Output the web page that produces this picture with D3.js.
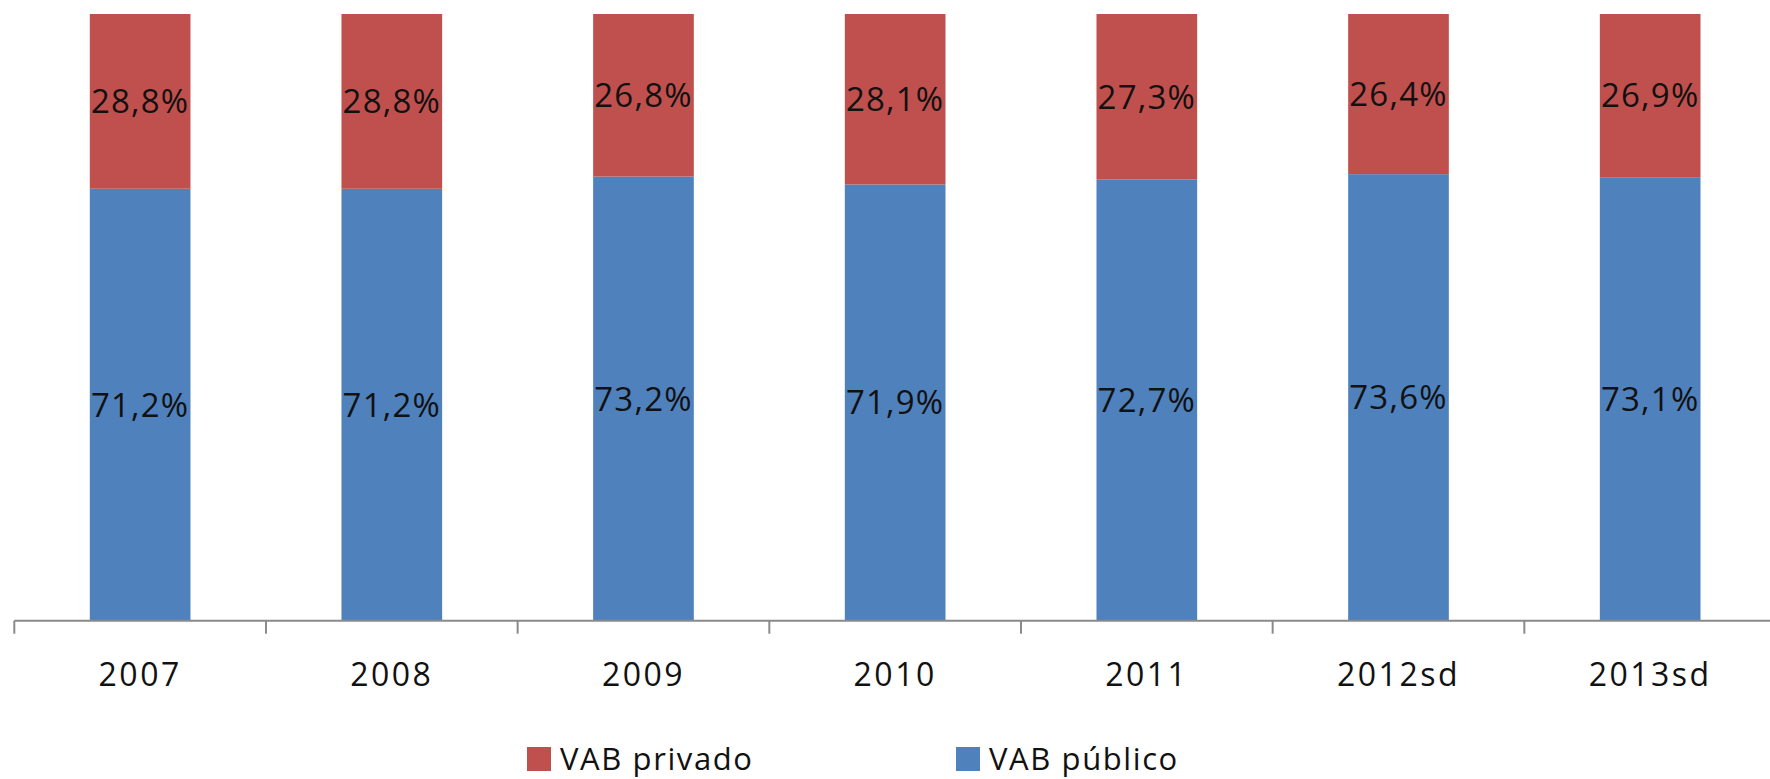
<!DOCTYPE html>
<html>
<head>
<meta charset="utf-8">
<script src="https://cdn.jsdelivr.net/npm/d3@7"></script>
<style>
  html, body { margin: 0; padding: 0; background: #fff; }
  svg { display: block; }
  text { font-family: "Open Sans", "Noto Sans", sans-serif; fill: #111; }
</style>
</head>
<body>
<svg id="chart" width="1770" height="779"></svg>
<script>
const categories = ["2007", "2008", "2009", "2010", "2011", "2012sd", "2013sd"];
const vabPublico = [71.2, 71.2, 73.2, 71.9, 72.7, 73.6, 73.1];
const vabPrivado = [28.8, 28.8, 26.8, 28.1, 27.3, 26.4, 26.9];
const seriesNames = ["VAB privado", "VAB público"];
const seriesColors = ["#C0504D", "#4F81BD"];

const W = 1770, H = 779;
const svg = d3.select("#chart");

const x = d3.scaleBand().domain(categories).range([14.3, 1776]).paddingInner(0.6).paddingOuter(0.3);
const y = d3.scaleLinear().domain([0, 100]).range([620.7, 14]);

const fmt = v => d3.format(".1f")(v).replace(".", ",") + "%";

const rows = categories.map((c, i) => ({ cat: c, pub: vabPublico[i], priv: vabPrivado[i] }));

// public (bottom) segment
svg.append("g").selectAll("rect").data(rows).join("rect")
  .attr("x", d => x(d.cat)).attr("width", x.bandwidth())
  .attr("y", d => y(d.pub)).attr("height", d => y(0) - y(d.pub))
  .attr("fill", seriesColors[1]);

// private (top) segment
svg.append("g").selectAll("rect").data(rows).join("rect")
  .attr("x", d => x(d.cat)).attr("width", x.bandwidth())
  .attr("y", d => y(d.pub + d.priv)).attr("height", d => y(d.pub) - y(d.pub + d.priv))
  .attr("fill", seriesColors[0]);

// labels
const lbl = svg.append("g").attr("font-size", 33).attr("letter-spacing", 1.2).attr("text-anchor", "middle");
lbl.selectAll("text.pub").data(rows).join("text").attr("class", "pub")
  .attr("x", d => x(d.cat) + x.bandwidth() / 2)
  .attr("y", d => (y(0) + y(d.pub)) / 2)
  .attr("dy", "0.36em")
  .text(d => fmt(d.pub));
lbl.selectAll("text.priv").data(rows).join("text").attr("class", "priv")
  .attr("x", d => x(d.cat) + x.bandwidth() / 2)
  .attr("y", d => (y(d.pub) + y(d.pub + d.priv)) / 2)
  .attr("dy", "0.36em")
  .text(d => fmt(d.priv));

// axis
const axisG = svg.append("g").attr("transform", `translate(0,${y(0)})`);
axisG.append("line").attr("x1", x.range()[0]).attr("x2", W).attr("y1", 0).attr("y2", 0)
  .attr("stroke", "#8a8a8a").attr("stroke-width", 2);
const step = x.step();
const bounds = d3.range(categories.length + 1).map(i => x.range()[0] + i * step);
axisG.selectAll("line.tick").data(bounds).join("line").attr("class", "tick")
  .attr("x1", d => d).attr("x2", d => d).attr("y1", 0).attr("y2", 13)
  .attr("stroke", "#8a8a8a").attr("stroke-width", 2);

const xAxis = d3.axisBottom(x).tickSize(0).tickPadding(0);
const xg = svg.append("g").attr("transform", `translate(0,686)`).call(xAxis);
xg.select(".domain").remove();
xg.selectAll("text").attr("font-size", 32).attr("letter-spacing", 2.5)
  .attr("dy", 0).attr("fill", "#111")
  .style("font-family", '"Open Sans", "Noto Sans", sans-serif');

// legend
const legendX = [527, 956];
const leg = svg.append("g");
seriesNames.forEach((n, i) => {
  leg.append("rect").attr("x", legendX[i]).attr("y", 747).attr("width", 24).attr("height", 24).attr("fill", seriesColors[i]);
  leg.append("text").attr("x", legendX[i] + 33).attr("y", 770).attr("font-size", 31).attr("letter-spacing", 1.6).text(n);
});
</script>
</body>
</html>
